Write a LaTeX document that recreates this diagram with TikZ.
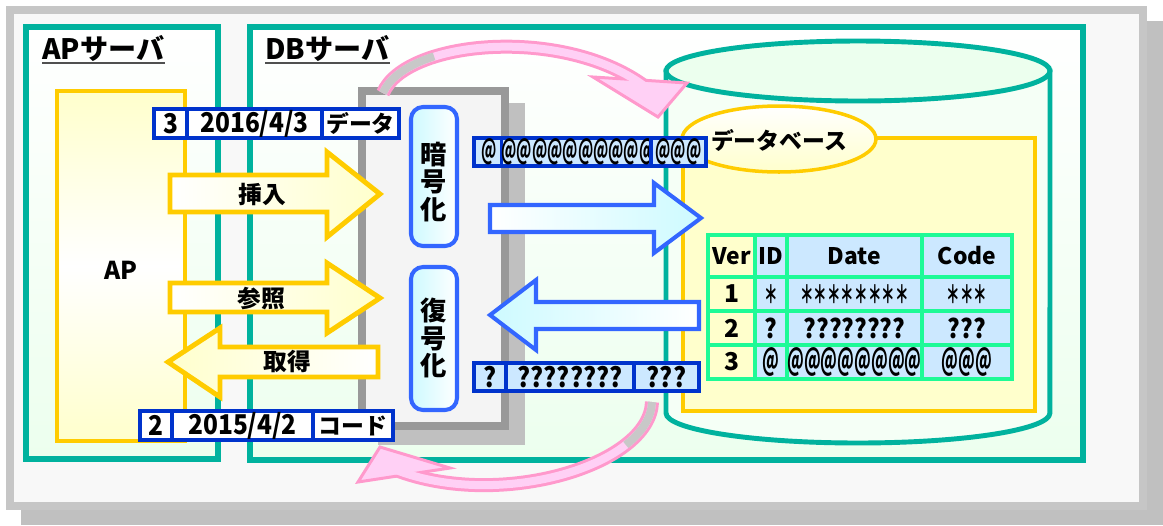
\documentclass[tikz,border=0pt]{standalone}
\usepackage{fontspec}
\setmainfont{Noto Sans CJK JP}
\newfontfamily\narrowfont{Noto Sans CJK JP}[FakeStretch=0.54]
\newfontfamily\numfont{Noto Sans CJK JP}[FakeStretch=0.9]
\newfontfamily\astfont{Noto Sans CJK JP}[FakeStretch=0.55]
\usetikzlibrary{shapes.geometric}
\definecolor{srvline}{RGB}{0,178,158}
\definecolor{srvfill}{RGB}{236,255,238}
\definecolor{apline}{RGB}{255,204,0}
\definecolor{apfill}{RGB}{255,255,204}
\definecolor{keyblue}{RGB}{51,102,255}
\definecolor{keyfill}{RGB}{205,250,255}
\definecolor{recblue}{RGB}{0,51,204}
\definecolor{recfill}{RGB}{204,232,255}
\definecolor{tabline}{RGB}{30,250,150}
\definecolor{pinkline}{RGB}{255,153,204}
\definecolor{pinkfill}{RGB}{255,208,245}
\definecolor{pinkgray}{RGB}{200,200,200}
\definecolor{panelfill}{RGB}{248,248,248}
\definecolor{panelline}{RGB}{198,198,198}
\definecolor{shadowgray}{RGB}{192,192,192}
\definecolor{boxgray}{RGB}{153,153,153}
\definecolor{boxfill}{RGB}{244,244,244}
\definecolor{ulgray}{RGB}{80,80,80}

\begin{document}
\begin{tikzpicture}[x=0.02cm, y=-0.02cm,
	srv/.style={draw=srvline, line width=3.4pt, top color=white, bottom color=srvfill},
	head/.style={inner sep=0pt, anchor=base west, font=\fontsize{16}{18}\selectfont\bfseries},
	lbl/.style={font=\fontsize{13.5}{15}\selectfont\bfseries},
	vtext/.style={align=center, font=\fontsize{15}{15.6}\selectfont\bfseries},
	keybox/.style={draw=keyblue, line width=2.3pt, rounded corners=0.24cm, left color=keyfill, right color=white},
	yarrow/.style={draw=apline, line width=2.8pt},
	barrow/.style={draw=keyblue, line width=2.3pt},
	rec/.style={draw=recblue, line width=2.2pt, minimum height=0.57cm, inner sep=0pt, font=\numfont\fontsize{15.5}{17}\selectfont},
	kana/.style={font=\fontsize{13}{14}\selectfont\bfseries},
	atsign/.style={font=\narrowfont\fontsize{15.5}{16}\selectfont\bfseries},
	tabl/.style={draw=tabline, line width=2pt},
	cell/.style={font=\fontsize{13}{14}\selectfont\bfseries},
	pinkband/.style={draw=pinkline, line width=0.28cm},
	pinkcore/.style={draw=pinkfill, line width=0.16cm},
	graycore/.style={draw=pinkgray, line width=0.16cm},
	pinkhead/.style={draw=pinkline, fill=pinkfill, line width=1.7pt}]

	\fill[white] (0,0) rectangle (1163,525);
	\useasboundingbox (0,0) rectangle (1163,525);
	\fill[shadowgray] (21,21) rectangle (1163,525);
	\draw[draw=panelline, fill=panelfill, line width=4pt] (10,10) rectangle (1143,506);

	\draw[srv] (26,27) rectangle (218,459);
	\draw[srv] (250,27) rectangle (1083,460);
	\node[head] (aph) at (42,59) {APサーバ};
	\node[head] (dbh) at (265,59) {DBサーバ};
	\draw[ulgray, line width=1.1pt] ([yshift=-2.4pt]aph.base west) -- ([yshift=-2.4pt]aph.base east);
	\draw[ulgray, line width=1.1pt] ([yshift=-2.4pt]dbh.base west) -- ([yshift=-2.4pt]dbh.base east);

	\draw[draw=apline, line width=2.8pt, top color=apfill, bottom color=apfill, middle color=white] (57,91) rectangle (185,441);
	\node[lbl, font=\fontsize{14}{15}\selectfont\bfseries] (ap) at (121,270) {AP};

	\fill[shadowgray] (378,103) rectangle (525,445);
	\draw[draw=boxgray, fill=boxfill, line width=4pt] (362,91) rectangle (505,426);
	\draw[keybox] (411,107) rectangle (457,246);
	\node[vtext] (enc) at (434,182) {暗\\号\\化};
	\draw[keybox] (411,267) rectangle (457,410);
	\node[vtext] (dec) at (434,338) {復\\号\\化};

	\draw[draw=srvline, line width=2.8pt, fill=srvfill!50] (666,71) -- (666,413) arc[start angle=180, end angle=360, x radius=3.84cm, y radius=0.6cm] -- (1050,71) -- cycle;
	\draw[draw=srvline, line width=2.8pt, fill=srvfill] (858,71) ellipse[x radius=3.84cm, y radius=0.6cm];
	\draw[draw=apline, fill=apfill, line width=2.3pt] (683,138) rectangle (1035,411);
	\draw[draw=apline, line width=2pt, top color=white, bottom color=apfill] (779,139) ellipse[x radius=1.94cm, y radius=0.66cm];
	\node[kana] (dbl) at (779,140) {データベース};

	\fill[apfill] (708,235) rectangle (755,379);
	\fill[recfill] (755,235) rectangle (1012,379);
	\foreach \y in {277,311,345} \draw[tabl] (708,\y) -- (1012,\y);
	\foreach \x in {755,787,922} \draw[tabl] (\x,235) -- (\x,379);
	\draw[tabl] (708,235) rectangle (1012,379);
	\foreach \x/\t [count=\i] in {731.5/Ver, 771/ID, 854.5/Date, 967/Code}
		\node[cell] (h\i) at (\x,256) {\t};
	\foreach \y/\t in {294/1, 328/2, 362/3}
		\node[cell, font=\fontsize{14}{15}\selectfont\bfseries] (v\t) at (731.5,\y) {\t};
	\foreach \x/\t [count=\i] in {771/＊, 854.5/＊＊＊＊＊＊＊＊, 967/＊＊＊}
		\node[cell, font=\astfont\fontsize{14}{15}\selectfont\bfseries] (s\i) at (\x,294) {\t};
	\foreach \x/\t [count=\i] in {771/?, 854.5/????????, 967/???}
		\node[cell, font=\numfont\fontsize{15}{16}\selectfont\bfseries] (q\i) at (\x,328) {\t};
	\foreach \x/\t [count=\i] in {771/@, 854.5/@@@@@@@@, 967/@@@}
		\node[atsign, font=\narrowfont\fontsize{17}{18}\selectfont\bfseries] (m\i) at (\x,362) {\t};

	\draw[yarrow, left color=white, right color=apfill] (170,175) -- (327,175) -- (327,152) -- (380,194) -- (327,237) -- (327,212) -- (170,212) -- cycle;
	\node[lbl] (ins) at (262,194) {挿入};
	\draw[yarrow, left color=white, right color=apfill] (170,283) -- (327,283) -- (327,263) -- (380,298) -- (327,333) -- (327,312) -- (170,312) -- cycle;
	\node[lbl] (sel) at (261,299) {参照};
	\draw[yarrow, left color=apfill, right color=white] (378,347) -- (220,347) -- (220,328) -- (168,362) -- (220,397) -- (220,377) -- (378,377) -- cycle;
	\node[lbl] (get) at (287,362) {取得};

	\draw[barrow, left color=white, right color=keyfill] (490,205) -- (654,205) -- (654,183) -- (701,218) -- (654,253) -- (654,232) -- (490,232) -- cycle;
	\draw[barrow, left color=keyfill, right color=white] (699,302) -- (536,302) -- (536,280) -- (490,315) -- (536,350) -- (536,329) -- (699,329) -- cycle;

	\node[rec, fill=white, minimum width=0.66cm] (r3a) at (170.5,123.5) {\bfseries 3};
	\node[rec, fill=white, minimum width=2.7cm] (r3b) at (254.5,123.5) {\bfseries 2016/4/3};
	\node[rec, fill=white, minimum width=1.54cm, kana] (r3c) at (360.5,123.5) {データ};
	\node[rec, fill=white, minimum width=0.64cm] (r2a) at (156,425.5) {\bfseries 2};
	\node[rec, fill=white, minimum width=2.82cm] (r2b) at (242.5,425.5) {\bfseries 2015/4/2};
	\node[rec, fill=white, minimum width=1.6cm, kana] (r2c) at (353,425.5) {コード};
	\node[rec, fill=recfill, minimum width=0.62cm, atsign] (e1) at (489.5,152) {@};
	\node[rec, fill=recfill, minimum width=2.92cm, atsign] (e2) at (578,152) {@@@@@@@@@@};
	\node[rec, fill=recfill, minimum width=1.1cm, atsign] (e3) at (678.5,152) {@@@};
	\node[rec, fill=recfill, minimum width=0.64cm] (d1) at (490,377) {\bfseries ?};
	\node[rec, fill=recfill, minimum width=2.56cm] (d2) at (570,377) {\bfseries ????????};
	\node[rec, fill=recfill, minimum width=1.3cm] (d3) at (666.5,377) {\bfseries ???};

	\draw[pinkband] (383,93) .. controls (405,40) and (565,25) .. (647,88);
	\draw[pinkhead] (593,77) -- (687,83) -- (658,117) -- cycle;
	\draw[pinkcore] (383,93) .. controls (405,40) and (565,25) .. (647,88);
	\draw[graycore] (383,93) .. controls (389.6,77.1) and (408.6,64.6) .. (434.1,56.4);

	\draw[pinkband] (652,402) .. controls (650,465) and (500,510) .. (396,470);
	\draw[pinkhead] (358,482) -- (380,447) -- (450,468) -- cycle;
	\draw[pinkcore] (652,402) .. controls (650,465) and (500,510) .. (396,470);
	\draw[graycore] (652,402) .. controls (651.5,417.75) and (641.75,432.4) .. (625.8,444.9);
\end{tikzpicture}
\end{document}
